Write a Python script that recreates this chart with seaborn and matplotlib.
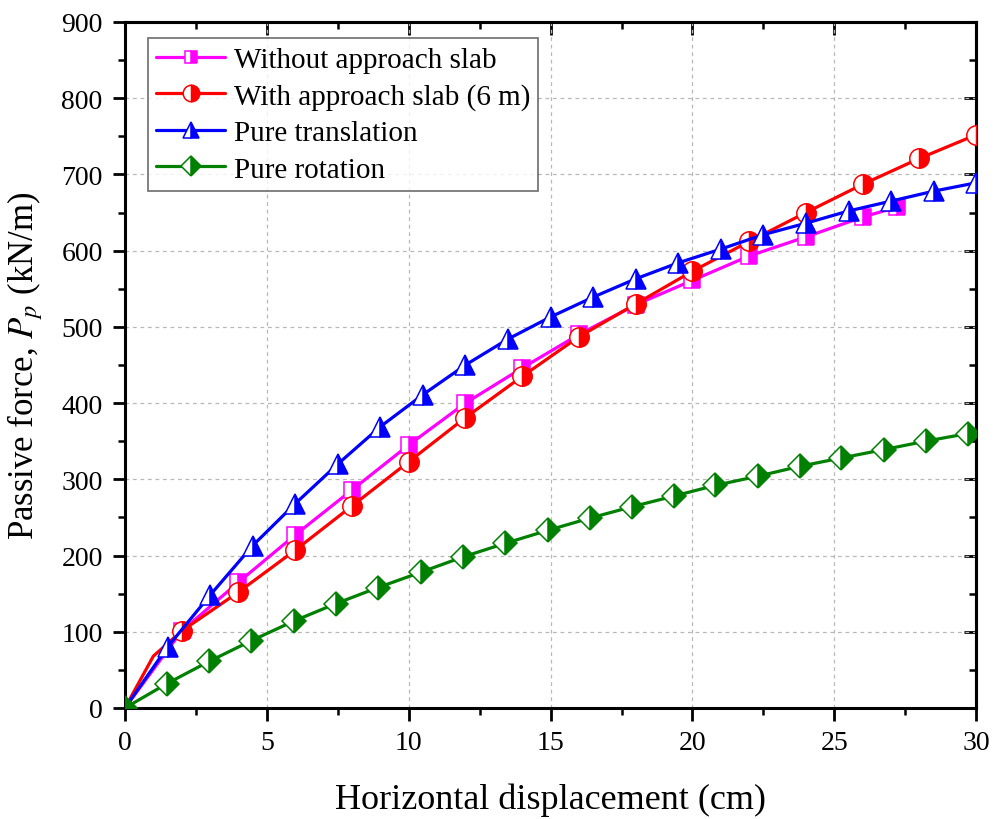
import numpy as np
import pandas as pd
import matplotlib
matplotlib.use("Agg")
import matplotlib.pyplot as plt
import seaborn as sns
from matplotlib.ticker import MultipleLocator

# ---- data ----
x_without = [0, 2, 4, 6, 8, 10, 12, 14, 16, 18, 20, 22, 24, 26, 27.2]
y_without = [0, 101, 165, 227, 286, 345, 400, 446, 490, 529, 561, 593, 618, 644, 657]

x_with = [0, 1, 2, 4, 6, 8, 10, 12, 14, 16, 18, 20, 22, 24, 26, 28, 30]
y_with = [0, 68, 101, 152, 207, 265, 323, 381, 435, 487, 530, 573, 612, 650, 687, 721, 752]

x_trans = [0, 1.5, 3, 4.5, 6, 7.5, 9, 10.5, 12, 13.5, 15, 16.5, 18, 19.5, 21, 22.5, 24, 25.5, 27, 28.5, 30]
y_trans = [0, 80, 148, 213, 268, 320, 369, 411, 450, 484, 513, 539, 563, 584, 602, 621, 636, 652, 665, 678, 689]

x_rot = [0, 1.48, 2.96, 4.44, 5.95, 7.44, 8.92, 10.42, 11.9, 13.4, 14.9, 16.38, 17.87, 19.35, 20.8, 22.3, 23.78, 25.25, 26.75, 28.22, 29.7]
y_rot = [0, 32, 61, 88, 114, 137, 158, 178, 198, 216, 233, 249, 264, 278, 292, 304, 317, 328, 339, 350, 360]

labels = ["Without approach slab", "With approach slab (6 m)", "Pure translation", "Pure rotation"]
colors = ["#FF00FF", "#FF0000", "#0000FF", "#008000"]
markers = ["s", "o", "^", "D"]

sns.set_theme(style="white")
plt.rcParams["font.family"] = ["Liberation Serif", "DejaVu Serif"]
plt.rcParams["mathtext.fontset"] = "stix"
plt.rcParams["text.color"] = "black"
plt.rcParams["axes.labelcolor"] = "black"
plt.rcParams["xtick.color"] = "black"
plt.rcParams["ytick.color"] = "black"

fig = plt.figure(figsize=(9.95, 8.2), dpi=100)
ax = fig.add_axes([0.1256, 0.1354, 0.8555, 0.8366])

series = [
    (x_without, y_without, list(range(1, len(x_without)))),
    (x_with, y_with, list(range(2, len(x_with)))),
    (x_trans, y_trans, list(range(1, len(x_trans)))),
    (x_rot, y_rot, list(range(0, len(x_rot)))),
]
msizes = [11, 14, 14, 12]
for (xs, ys, me), lab, c, m, ms in zip(series, labels, colors, markers, msizes):
    df = pd.DataFrame({"x": xs, "y": ys})
    sns.lineplot(data=df, x="x", y="y", ax=ax, color=c, linewidth=2.3,
                 marker=m, markersize=ms, markevery=me, fillstyle="right",
                 markerfacecolor=c, markerfacecoloralt="white",
                 markeredgecolor=c, markeredgewidth=1.1, label=lab,
                 errorbar=None, sort=False, zorder=3)

ax.set_xlim(0, 30)
ax.set_ylim(0, 900)
ax.xaxis.set_major_locator(MultipleLocator(5))
ax.xaxis.set_minor_locator(MultipleLocator(2.5))
ax.yaxis.set_major_locator(MultipleLocator(100))
ax.yaxis.set_minor_locator(MultipleLocator(50))
ax.grid(True, which="major", linestyle=(0, (3, 3)), color="#b8b8b8", linewidth=0.9)
ax.set_axisbelow(True)

for s in ax.spines.values():
    s.set_color("black")
    s.set_linewidth(2.2)
    s.set_visible(True)

ax.tick_params(axis="both", which="major", direction="out", length=9, width=2.0,
               labelsize=20, pad=7, bottom=True, left=True)
ax.tick_params(axis="both", which="minor", direction="out", length=5, width=1.8,
               bottom=True, left=True)
# inward ticks on top/right
ax2 = ax.secondary_xaxis("top")
ax2.xaxis.set_major_locator(MultipleLocator(5))
ax2.xaxis.set_minor_locator(MultipleLocator(2.5))
ax2.tick_params(which="major", direction="in", length=9, width=2.0, labeltop=False)
ax2.tick_params(which="minor", direction="in", length=5, width=1.8)
ax2.spines["top"].set_linewidth(2.2)
ay2 = ax.secondary_yaxis("right")
ay2.yaxis.set_major_locator(MultipleLocator(100))
ay2.yaxis.set_minor_locator(MultipleLocator(50))
ay2.tick_params(which="major", direction="in", length=9, width=2.0, labelright=False)
ay2.tick_params(which="minor", direction="in", length=5, width=1.8)
ay2.spines["right"].set_linewidth(2.2)

ax.set_xlabel("Horizontal displacement (cm)", fontsize=26, labelpad=20)
ax.set_ylabel("Passive force, $P_p$ (kN/m)", fontsize=25, labelpad=12)

leg = ax.legend(loc="upper left", bbox_to_anchor=(0.0273, 0.976), fontsize=21,
                frameon=True, fancybox=False, edgecolor="#555555",
                handlelength=2.35, handletextpad=0.3, borderpad=0.28,
                labelspacing=0.34, borderaxespad=0.0, markerscale=0.85)
leg.get_frame().set_linewidth(1.3)

fig.savefig("out.png", dpi=100)
